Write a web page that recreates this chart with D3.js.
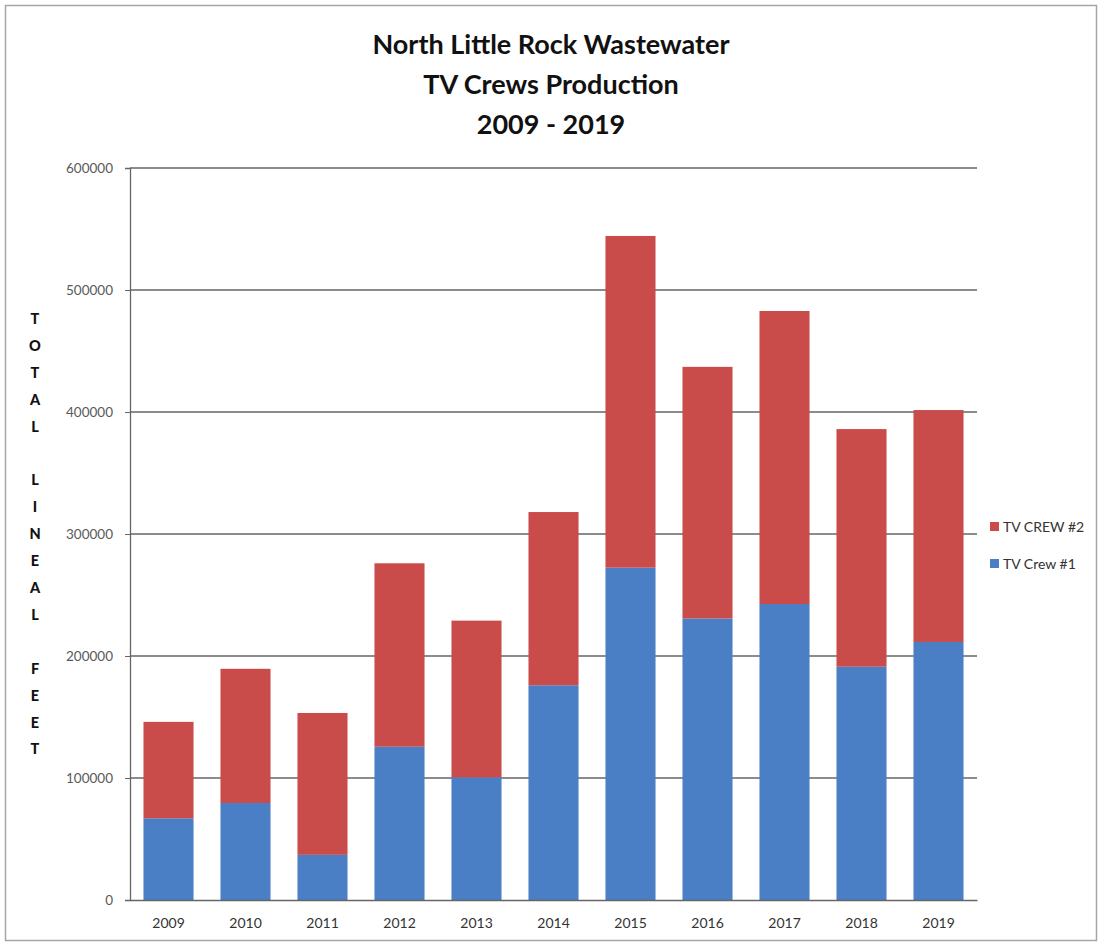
<!DOCTYPE html>
<html>
<head>
<meta charset="utf-8">
<script src="https://cdn.jsdelivr.net/npm/d3@7"></script>
<style>
  body { margin: 0; background: #fff; }
  svg { display: block; font-family: Lato, "Open Sans", sans-serif; }
</style>
</head>
<body>
<div id="chart"></div>
<script>
const years = ["2009", "2010", "2011", "2012", "2013", "2014", "2015", "2016", "2017", "2018", "2019"];
const crew1 = [67000, 79500, 37000, 125600, 100500, 176000, 272400, 230800, 242600, 191200, 211500];
const crew2Total = [146000, 189500, 153300, 276000, 229000, 318000, 544300, 437000, 482800, 386000, 401600];
const crew2 = crew2Total.map((t, i) => t - crew1[i]);
const seriesNames = ["TV Crew #1", "TV CREW #2"];
const yTicks = [0, 100000, 200000, 300000, 400000, 500000, 600000];
const titleLines = ["North Little Rock Wastewater", "TV Crews Production", "2009 - 2019"];
const yLabel = "TOTAL LINEAL FEET";

const chart = {};
chart.width = 1102;
chart.height = 947;
chart.plot = { left: 130, right: 977, top: 168, bottom: 900 };
chart.colors = ["#4a7ec5", "#c94c4a"];
chart.font = "Lato, 'Open Sans', sans-serif";

const svg = d3.select("#chart")
    .append("svg")
    .attr("width", chart.width)
    .attr("height", chart.height);

// outer frame
svg.append("rect")
    .attr("x", 5.5).attr("y", 5.5)
    .attr("width", 1091).attr("height", 935)
    .attr("fill", "#fff")
    .attr("stroke", "#a6a6a6")
    .attr("stroke-width", 1.5);

const x = d3.scaleBand()
    .domain(years)
    .range([chart.plot.left, chart.plot.right])
    .paddingInner(0.35)
    .paddingOuter(0.175);
const y = d3.scaleLinear()
    .domain([0, 600000])
    .range([chart.plot.bottom, chart.plot.top]);

// gridlines
svg.append("g")
    .selectAll("line")
    .data(yTicks.slice(1))
    .enter()
    .append("line")
    .attr("x1", chart.plot.left).attr("x2", chart.plot.right)
    .attr("y1", d => y(d)).attr("y2", d => y(d))
    .attr("stroke", "#666")
    .attr("stroke-width", 1.3);

// y axis
const yAxis = svg.append("g")
    .attr("transform", `translate(${chart.plot.left},0)`)
    .call(d3.axisLeft(y).tickValues(yTicks).tickSize(5).tickPadding(12).tickFormat(d3.format("d")));
yAxis.attr("font-family", chart.font);
yAxis.select(".domain").attr("stroke", "#666").attr("stroke-width", 1.3);
yAxis.selectAll(".tick line").attr("stroke", "#666");
yAxis.selectAll("text")
    .attr("fill", "#595959")
    .style("font-size", "13.5px");

// stacked bars
const stackData = years.map((yr, i) => ({ year: yr, c1: crew1[i], c2: crew2[i] }));
const stacked = d3.stack().keys(["c1", "c2"])(stackData);

svg.append("g")
    .selectAll("g")
    .data(stacked)
    .enter()
    .append("g")
    .attr("fill", (d, i) => chart.colors[i])
    .selectAll("rect")
    .data(d => d)
    .enter()
    .append("rect")
    .attr("x", d => x(d.data.year))
    .attr("y", d => y(d[1]))
    .attr("height", d => y(d[0]) - y(d[1]))
    .attr("width", x.bandwidth());

// x axis
const xAxis = svg.append("g")
    .attr("transform", `translate(0,${chart.plot.bottom})`)
    .call(d3.axisBottom(x).tickSize(0).tickPadding(18));
xAxis.attr("font-family", chart.font);
xAxis.select(".domain").attr("stroke", "#666").attr("stroke-width", 1.3);
xAxis.selectAll("text")
    .attr("fill", "#333")
    .style("font-size", "14px");

// title
svg.append("g")
    .selectAll("text")
    .data(titleLines)
    .enter()
    .append("text")
    .attr("x", 551)
    .attr("y", (d, i) => 54 + i * 40)
    .attr("text-anchor", "middle")
    .attr("font-weight", "bold")
    .attr("font-size", 27)
    .attr("fill", "#111")
    .text(d => d);

// vertical y label, one letter per line
svg.append("g")
    .selectAll("text")
    .data(yLabel.split(""))
    .enter()
    .append("text")
    .attr("x", 35)
    .attr("y", (d, i) => 324 + i * 26.9)
    .attr("text-anchor", "middle")
    .attr("font-weight", "900")
    .attr("font-size", 14.5)
    .attr("fill", "#111")
    .text(d => d);

// legend (crew #2 on top)
const legendItems = [1, 0];
const legend = svg.append("g")
    .selectAll("g")
    .data(legendItems)
    .enter()
    .append("g")
    .attr("transform", (d, i) => `translate(990,${527 + i * 37})`);
legend.append("rect")
    .attr("x", 0).attr("y", -5)
    .attr("width", 9).attr("height", 9)
    .attr("fill", d => chart.colors[d]);
legend.append("text")
    .attr("x", 13).attr("y", 5)
    .attr("font-size", 14)
    .attr("fill", "#333")
    .text(d => seriesNames[d]);
</script>
</body>
</html>
